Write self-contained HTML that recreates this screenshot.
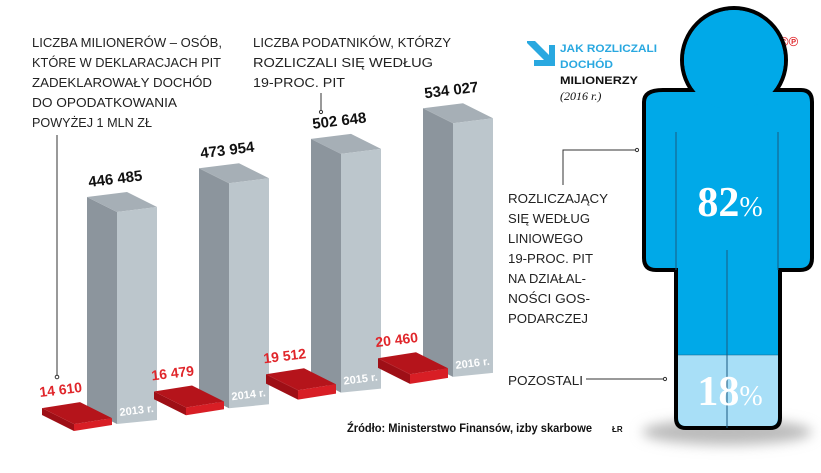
<!DOCTYPE html>
<html><head><meta charset="utf-8"><style>
html,body{margin:0;padding:0;background:#fff;}
svg{display:block;font-family:"Liberation Sans",sans-serif;}
</style></head><body>
<svg id="chart" width="821" height="473" viewBox="0 0 821 473" xmlns="http://www.w3.org/2000/svg">
<defs>
<filter id="blur" x="-30%" y="-100%" width="160%" height="300%"><feGaussianBlur stdDeviation="6"/></filter>
</defs>
<g font-size="13" fill="#222">
<text x="32" y="47" textLength="190" lengthAdjust="spacingAndGlyphs">LICZBA MILIONERÓW – OSÓB,</text>
<text x="32" y="67" textLength="189" lengthAdjust="spacingAndGlyphs">KTÓRE W DEKLARACJACH PIT</text>
<text x="32" y="87" textLength="180" lengthAdjust="spacingAndGlyphs">ZADEKLAROWAŁY DOCHÓD</text>
<text x="32" y="107" textLength="145" lengthAdjust="spacingAndGlyphs">DO OPODATKOWANIA</text>
<text x="32" y="127" textLength="120" lengthAdjust="spacingAndGlyphs">POWYŻEJ 1 MLN ZŁ</text>
</g>
<line x1="57" y1="135" x2="57" y2="376" stroke="#333" stroke-width="1"/>
<circle cx="57" cy="377" r="1.8" fill="#fff" stroke="#333"/>
<g font-size="13" fill="#222">
<text x="253" y="47" textLength="198" lengthAdjust="spacingAndGlyphs">LICZBA PODATNIKÓW, KTÓRZY</text>
<text x="253" y="67" textLength="180" lengthAdjust="spacingAndGlyphs">ROZLICZALI SIĘ WEDŁUG</text>
<text x="253" y="87" textLength="92" lengthAdjust="spacingAndGlyphs">19-PROC. PIT</text>
</g>
<line x1="321" y1="93" x2="321" y2="111" stroke="#333"/>
<circle cx="321" cy="112" r="1.6" fill="#fff" stroke="#333"/>
<g id="bars"></g>
<text x="347" y="432" font-size="12" font-weight="bold" fill="#111" textLength="245" lengthAdjust="spacingAndGlyphs">Źródło: Ministerstwo Finansów, izby skarbowe</text>
<text x="612" y="432" font-size="8" font-weight="bold" fill="#111">ŁR</text>
<g>
<path d="M527,41 L535,41 L549,55 L549,45 L555,45 L555,66 L534,66 L534,60 L544,60 L527,43 Z" fill="#29a8e0"/>
<text x="560" y="52" font-size="11" font-weight="bold" fill="#29a8e0" textLength="97" lengthAdjust="spacingAndGlyphs">JAK ROZLICZALI</text>
<text x="560" y="68" font-size="11" font-weight="bold" fill="#29a8e0" textLength="53" lengthAdjust="spacingAndGlyphs">DOCHÓD</text>
<text x="560" y="84" font-size="11" font-weight="bold" fill="#111" textLength="78" lengthAdjust="spacingAndGlyphs">MILIONERZY</text>
<text x="560" y="100" font-size="12" font-style="italic" font-family="Liberation Serif, serif" fill="#111">(2016 r.)</text>
<text x="779" y="46" font-size="13" font-weight="bold" fill="#e0262b">©℗</text>
</g>
<ellipse cx="727" cy="432" rx="85" ry="13" fill="#bbb" filter="url(#blur)"/>
<g>
<circle cx="734" cy="60" r="52" fill="#00a9e8" stroke="#000" stroke-width="4"/>
<path d="M663,90 L801,90 Q812,90 812,102 L812,258 Q812,270 800,270 L780,270 L780,418 Q780,428 770,428 L686,428 Q676,428 676,418 L676,270 L656,270 Q644,270 644,258 L644,102 Q644,90 663,90 Z" fill="#00a9e8" stroke="#000" stroke-width="4"/>
<circle cx="734" cy="60" r="50" fill="#00a9e8"/>
<path d="M678,355 L778,355 L778,417 Q778,426 770,426 L686,426 Q678,426 678,417 Z" fill="#a8dff7"/>
<line x1="676" y1="132" x2="676" y2="270" stroke="#1a5a80" stroke-width="1"/>
<line x1="778" y1="132" x2="778" y2="270" stroke="#1a5a80" stroke-width="1"/>
<line x1="727" y1="250" x2="727" y2="428" stroke="#1a5a80" stroke-width="1"/>
<line x1="678" y1="355" x2="778" y2="355" stroke="#1a5a80" stroke-width="0.6"/>
<text x="730" y="216" text-anchor="middle" font-family="Liberation Serif, serif" font-weight="bold" font-size="42" fill="#fff">82<tspan font-size="28" font-weight="normal">%</tspan></text>
<text x="730" y="405" text-anchor="middle" font-family="Liberation Serif, serif" font-weight="bold" font-size="42" fill="#fff">18<tspan font-size="28" font-weight="normal">%</tspan></text>
</g>
<g font-size="13" fill="#222">
<text x="508" y="203" textLength="100" lengthAdjust="spacingAndGlyphs">ROZLICZAJĄCY</text>
<text x="508" y="223" textLength="82" lengthAdjust="spacingAndGlyphs">SIĘ WEDŁUG</text>
<text x="508" y="243" textLength="75" lengthAdjust="spacingAndGlyphs">LINIOWEGO</text>
<text x="508" y="263" textLength="85" lengthAdjust="spacingAndGlyphs">19-PROC. PIT</text>
<text x="508" y="283" textLength="78" lengthAdjust="spacingAndGlyphs">NA DZIAŁAL-</text>
<text x="508" y="303" textLength="82" lengthAdjust="spacingAndGlyphs">NOŚCI GOS-</text>
<text x="508" y="323" textLength="80" lengthAdjust="spacingAndGlyphs">PODARCZEJ</text>
<text x="508" y="385" textLength="75" lengthAdjust="spacingAndGlyphs">POZOSTALI</text>
</g>
<polyline points="563,185 563,150 636,150" fill="none" stroke="#333"/>
<circle cx="637" cy="150" r="1.6" fill="#fff" stroke="#333"/>
<line x1="586" y1="379" x2="664" y2="379" stroke="#333"/>
<circle cx="665" cy="379" r="1.6" fill="#fff" stroke="#333"/>
</svg>
<script>
const years = ["2013 r.", "2014 r.", "2015 r.", "2016 r."];
const linearPayers = [446485, 473954, 502648, 534027];
const millionaires = [14610, 16479, 19512, 20460];
const linearLabels = ["446 485", "473 954", "502 648", "534 027"];
const millionLabels = ["14 610", "16 479", "19 512", "20 460"];

const NS = "http://www.w3.org/2000/svg";
const g = document.getElementById("bars");
const scale = 212 / 446485;
function xBase(i) { return 117 + 112 * i; }
function yBase(i) { return 424 - 15.7 * i; }
function mk(tag, attrs, parent) {
  const el = document.createElementNS(NS, tag);
  for (const k in attrs) el.setAttribute(k, attrs[k]);
  parent.appendChild(el);
  return el;
}
function pts(a) { return a.map(p => p[0].toFixed(1) + "," + p[1].toFixed(1)).join(" "); }

years.forEach((yr, i) => {
  const bx = xBase(i), by = yBase(i);
  const h = linearPayers[i] * scale;
  const grp = mk("g", {}, g);
  
  
  // gray bar
  const dark = mk("polygon", {points: pts([[bx-30, by-h-15], [bx, by-h], [bx, by], [bx-30, by-15]]), fill: "#8c959d"}, grp);
  
  
  const top = mk("polygon", {points: pts([[bx-30, by-h-15], [bx+10, by-h-20], [bx+40, by-h-5], [bx, by-h]]), fill: "#a6afb6"}, grp);
  
  
  const front = mk("polygon", {points: pts([[bx, by-h], [bx+40, by-h-5], [bx+40, by-4], [bx, by]]), fill: "#bcc6cc"}, grp);
  
  
  const yl = mk("text", {x: bx+3, y: by-8, "font-size": "11", "font-weight": "bold", fill: "#fff", transform: `rotate(-7 ${bx+3} ${by-8})`}, grp);
  yl.textContent = yr;
  
  
  const vl = mk("text", {x: bx-28, y: by-h-25, "font-size": "15", "font-weight": "bold", fill: "#111", transform: `rotate(-7 ${bx-28} ${by-h-25})`}, grp);
  vl.textContent = linearLabels[i];
  
  
  // red plate
  const t = millionaires[i] * scale;
  const L = [bx-75, by-9], B = [bx-37, by-15], R = [bx-5, by+1], F = [bx-43, by+7];
  const up = p => [p[0], p[1]-t];
  const lf = mk("polygon", {points: pts([up(L), up(F), F, L]), fill: "#9e0f16"}, grp);
  
  
  const rf = mk("polygon", {points: pts([up(F), up(R), R, F]), fill: "#d81e25"}, grp);
  
  
  const tp = mk("polygon", {points: pts([up(L), up(B), up(R), up(F)]), fill: "#b5141b"}, grp);
  
  
  const rl = mk("text", {x: bx-77, y: by-t-20, "font-size": "14", "font-weight": "bold", fill: "#e0262b", transform: `rotate(-7 ${bx-77} ${by-t-20})`}, grp);
  rl.textContent = millionLabels[i];
  
  
});
</script>
</body></html>
